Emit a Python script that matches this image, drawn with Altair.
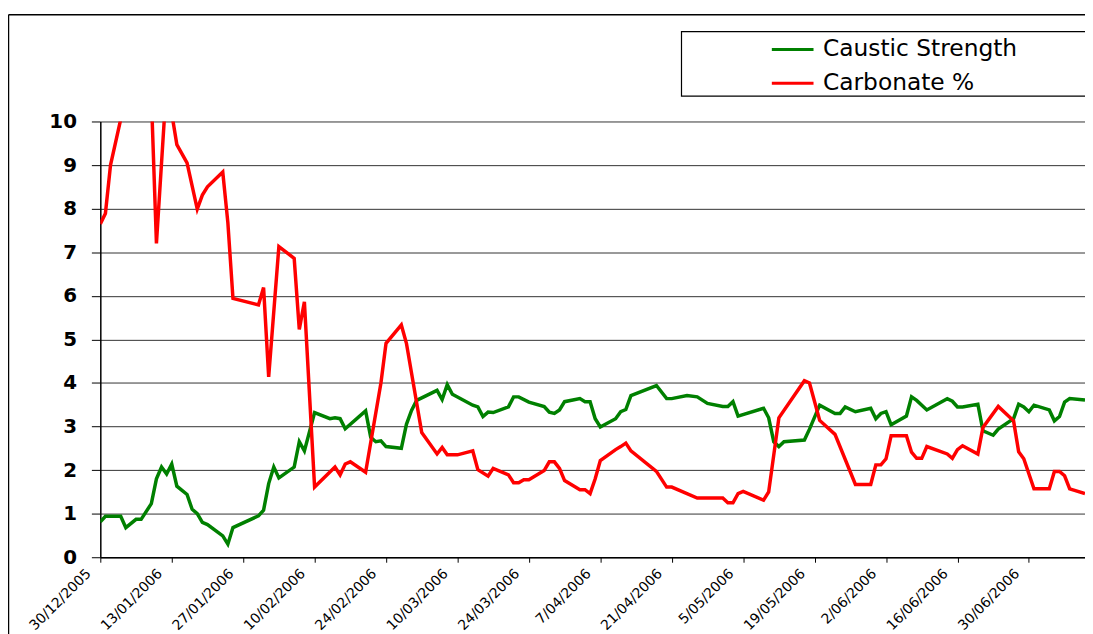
import altair as alt
import pandas as pd

# ---------------- data ----------------
start_date = "2005-12-30"
end_date = "2006-07-11"
series_names = ["Caustic Strength", "Carbonate %"]
series_colors = ["#008000", "#ff0000"]

# day offsets from start_date
caustic_days = [0, 1, 4, 5, 7, 8, 10, 11, 12, 13,
                14, 15, 17, 18, 19, 20, 21, 24, 25, 26,
                31, 32, 33, 34, 35, 38, 39, 40, 42, 45,
                46, 47, 48, 52, 53, 54, 55, 56, 59, 60,
                61, 62, 66, 67, 68, 69, 73, 74, 75, 76,
                77, 80, 81, 82, 84, 87, 88, 89, 90, 91,
                94, 95, 96, 97, 98, 101, 102, 103, 104, 109,
                111, 112, 115, 117, 119, 122, 123, 124, 125, 130,
                131, 132, 133, 134, 138, 139, 141, 144, 145, 146,
                148, 151, 152, 153, 154, 155, 158, 159, 160, 162,
                166, 167, 168, 169, 172, 173, 175, 176, 179, 180,
                181, 182, 183, 186, 187, 188, 189, 190, 193]
caustic_values = [0.81, 0.94, 0.94, 0.68, 0.87, 0.87, 1.23, 1.80, 2.07, 1.91,
                  2.14, 1.63, 1.44, 1.10, 1.00, 0.80, 0.75, 0.49, 0.30, 0.68,
                  0.95, 1.08, 1.69, 2.07, 1.82, 2.07, 2.65, 2.44, 3.32, 3.18,
                  3.20, 3.18, 2.95, 3.36, 2.75, 2.65, 2.67, 2.54, 2.50, 3.05,
                  3.37, 3.60, 3.83, 3.62, 3.96, 3.74, 3.49, 3.45, 3.23, 3.33,
                  3.32, 3.45, 3.68, 3.68, 3.56, 3.46, 3.33, 3.30, 3.38, 3.57,
                  3.64, 3.57, 3.57, 3.18, 2.99, 3.18, 3.34, 3.39, 3.71, 3.94,
                  3.64, 3.64, 3.71, 3.68, 3.53, 3.46, 3.46, 3.57, 3.24, 3.42,
                  3.20, 2.65, 2.54, 2.65, 2.69, 2.94, 3.49, 3.30, 3.30, 3.45,
                  3.34, 3.42, 3.18, 3.30, 3.34, 3.04, 3.24, 3.68, 3.60, 3.38,
                  3.64, 3.58, 3.45, 3.45, 3.51, 2.90, 2.80, 2.94, 3.18, 3.51,
                  3.45, 3.34, 3.49, 3.38, 3.13, 3.23, 3.56, 3.64, 3.61]

carbonate_days = [0, 1, 2, 4, 6, 8, 10, 11, 13, 15,
                  17, 19, 20, 21, 24, 25, 26, 31, 32, 33,
                  35, 38, 39, 40, 42, 46, 47, 48, 49, 52,
                  55, 56, 59, 60, 63, 66, 67, 68, 70, 73,
                  74, 76, 77, 80, 81, 82, 83, 84, 87, 88,
                  89, 90, 91, 94, 95, 96, 97, 98, 101, 102,
                  103, 104, 109, 111, 112, 117, 122, 123, 124, 125,
                  126, 130, 131, 133, 138, 139, 141, 144, 148, 151,
                  152, 153, 154, 155, 158, 159, 160, 161, 162, 166,
                  167, 168, 169, 172, 173, 176, 179, 180, 181, 183,
                  186, 187, 188, 189, 190, 193]
carbonate_values = [7.65, 7.89, 9.00, 10.05, 10.90, 11.20, 10.60, 7.20, 10.90, 9.47,
                    9.05, 7.99, 8.31, 8.50, 8.84, 7.68, 5.94, 5.79, 6.19, 4.14,
                    7.13, 6.86, 5.23, 5.86, 1.61, 2.07, 1.89, 2.14, 2.19, 1.95,
                    4.00, 4.91, 5.33, 4.91, 2.86, 2.37, 2.52, 2.35, 2.35, 2.44,
                    2.01, 1.86, 2.04, 1.89, 1.71, 1.71, 1.78, 1.78, 1.99, 2.19,
                    2.19, 2.04, 1.76, 1.55, 1.55, 1.46, 1.80, 2.22, 2.47, 2.54,
                    2.62, 2.44, 1.97, 1.61, 1.61, 1.36, 1.36, 1.25, 1.25, 1.46,
                    1.51, 1.31, 1.50, 3.20, 4.05, 4.00, 3.14, 2.82, 1.67, 1.67,
                    2.12, 2.12, 2.26, 2.79, 2.79, 2.41, 2.27, 2.27, 2.54, 2.37,
                    2.27, 2.47, 2.56, 2.37, 2.98, 3.46, 3.13, 2.42, 2.26, 1.57,
                    1.57, 1.97, 1.97, 1.87, 1.57, 1.46]

tick_dates = ["2005-12-30", "2006-01-13", "2006-01-27", "2006-02-10", "2006-02-24",
              "2006-03-10", "2006-03-24", "2006-04-07", "2006-04-21", "2006-05-05",
              "2006-05-19", "2006-06-02", "2006-06-16", "2006-06-30"]
y_ticks = [0, 1, 2, 3, 4, 5, 6, 7, 8, 9, 10]

# ---------------- build table ----------------
t0 = pd.Timestamp(start_date)
df_caustic = pd.DataFrame({
    "date": t0 + pd.to_timedelta(caustic_days, unit="D"),
    "value": caustic_values,
    "series": series_names[0],
})
df_carb = pd.DataFrame({
    "date": t0 + pd.to_timedelta(carbonate_days, unit="D"),
    "value": carbonate_values,
    "series": series_names[1],
})


def dt(s):
    t = pd.Timestamp(s)
    return alt.DateTime(year=t.year, month=t.month, date=t.day)


FONT = "DejaVu Sans"

x_enc = alt.X(
    "date:T",
    scale=alt.Scale(domain=[dt(start_date), dt(end_date)], nice=False),
    axis=alt.Axis(
        values=[dt(s) for s in tick_dates],
        format="%-d/%m/%Y",
        labelAngle=-45,
        labelAlign="right",
        labelBaseline="top",
        labelOffset=-17,
        labelPadding=4,
        tickSize=5,
        tickColor="black",
        domainColor="black",
        domainWidth=1.5,
        grid=False,
        title=None,
        labelFont=FONT,
        labelFontSize=14,
        labelColor="black",
        labelOverlap=False,
        labelFlush=False,
        labelBound=False,
    ),
)
y_enc = alt.Y(
    "value:Q",
    scale=alt.Scale(domain=[0, 10], nice=False),
    axis=alt.Axis(
        values=y_ticks,
        format="d",
        labelFont=FONT,
        labelFontSize=20,
        labelFontWeight="bold",
        labelColor="black",
        labelPadding=15,
        tickSize=9,
        tickColor="black",
        domainColor="black",
        domainWidth=1.5,
        gridColor="#333333",
        gridWidth=1,
        title=None,
    ),
)
color_enc = alt.Color(
    "series:N",
    scale=alt.Scale(domain=series_names, range=series_colors),
    legend=alt.Legend(
        title=None,
        orient="none",
        legendX=675,
        legendY=-95,
        padding=0,
        symbolType="stroke",
        symbolSize=1764,
        symbolStrokeWidth=3,
        labelFont=FONT,
        labelFontSize=23.5,
        labelColor="black",
        labelOffset=8,
        labelLimit=400,
        rowPadding=-4,
    ),
)

green = alt.Chart(df_caustic).mark_line(clip=True, strokeWidth=3.5).encode(
    x=x_enc, y=y_enc, color=color_enc
)
red = alt.Chart(df_carb).mark_line(clip=True, strokeWidth=3.5).encode(
    x=x_enc, y=y_enc, color=color_enc
)

one = pd.DataFrame({"k": [0]})
frame_left = alt.Chart(one).mark_rule(color="black", strokeWidth=1.5).encode(
    x=alt.value(-92.5), y=alt.value(-107.5), y2=alt.value(530)
)
frame_top = alt.Chart(one).mark_rule(color="black", strokeWidth=1.5).encode(
    y=alt.value(-107.5), x=alt.value(-92.5), x2=alt.value(1000)
)
legend_box = alt.Chart(one).mark_rect(
    fillOpacity=0, stroke="black", strokeWidth=1.2
).encode(
    x=alt.value(585.5), x2=alt.value(1010), y=alt.value(-90.5), y2=alt.value(-25.5)
)

chart = (
    alt.layer(frame_left, frame_top, legend_box, green, red)
    .properties(
        width=992,
        height=439,
        autosize=alt.AutoSizeParams(type="none"),
        padding={"left": 93, "top": 112, "right": 0, "bottom": 75},
        background="white",
    )
    .configure_view(stroke=None)
)

chart.save("out.html", embed_options={"renderer": "svg", "actions": False})
